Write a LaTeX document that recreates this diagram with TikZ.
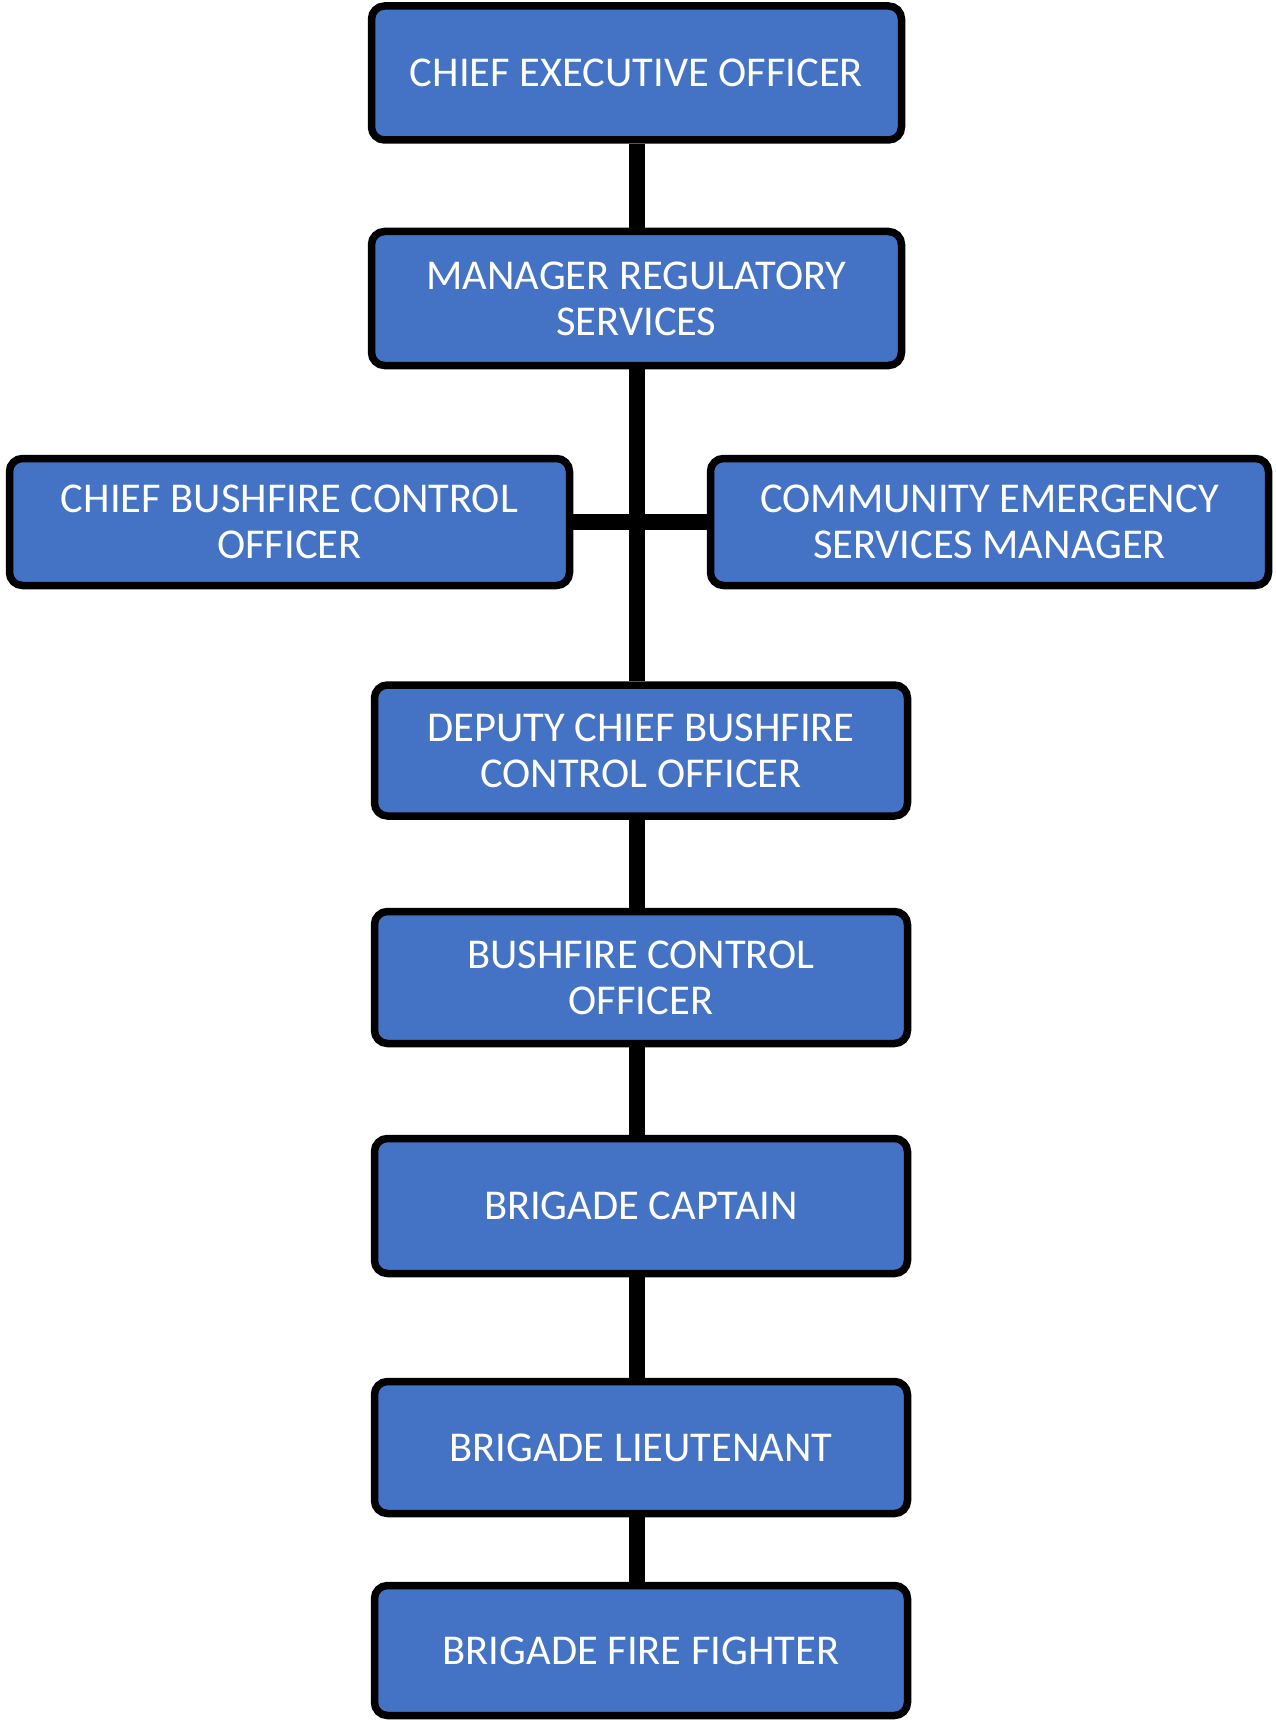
\documentclass[tikz,border=0pt]{standalone}
\usepackage{fontspec}
\setmainfont{Carlito}
\usetikzlibrary{positioning}
\definecolor{rankblue}{HTML}{4472C4}
\newcommand{\boxline}{7.5pt}
\tikzset{rank/.style={draw, fill=rankblue, text=white, line width=\boxline,
    rounded corners=13pt, align=center, inner sep=0pt,
    font=\fontsize{42.5}{46}\selectfont, minimum width=533pt, minimum height=131pt},
  link/.style={line width=16pt}}

\begin{document}
\begin{tikzpicture}[x=1pt,y=-1pt]
\useasboundingbox (0,0) rectangle (1275,1720);

    %% top of the chain, then the two side posts
    \node (ceo) at (636.5,73) [rank, minimum width=530pt, minimum height=134pt] {CHIEF EXECUTIVE OFFICER};
    \node (mrs) at (636.5,298.5) [rank, minimum width=530pt, minimum height=134pt] {MANAGER REGULATORY\\SERVICES};
    \node (cbco) at (289.5,522) [rank, minimum width=560pt, minimum height=127pt] {CHIEF BUSHFIRE CONTROL\\OFFICER};
    \node (cesm) at (989.5,522) [rank, minimum width=558pt, minimum height=127pt] {COMMUNITY EMERGENCY\\SERVICES MANAGER};

    %% brigade ranks down the middle
    \node (dcbco) at (641,750.5) [rank] {DEPUTY CHIEF BUSHFIRE\\CONTROL OFFICER};
    \node (bco) at (641,977.5) [rank, minimum height=132pt] {BUSHFIRE CONTROL\\OFFICER};
    \node (bc) at (641,1206) [rank, minimum height=135pt] {BRIGADE CAPTAIN};
    \node (bl) at (641,1447.5) [rank, minimum height=132pt] {BRIGADE LIEUTENANT};
    \node (bff) at (641,1650.5) [rank, minimum height=130pt] {BRIGADE FIRE FIGHTER};

    \draw[link] (ceo) to (mrs);
    \draw[link] (mrs.south) to (mrs.south |- dcbco.north);
    \draw[link] (cbco.east) to (cesm.west);
    \foreach \a/\b in {dcbco/bco, bco/bc, bc/bl, bl/bff}
    { \draw[link] (ceo.south |- \a.south) to (ceo.south |- \b.north);}

\end{tikzpicture}
\end{document}
